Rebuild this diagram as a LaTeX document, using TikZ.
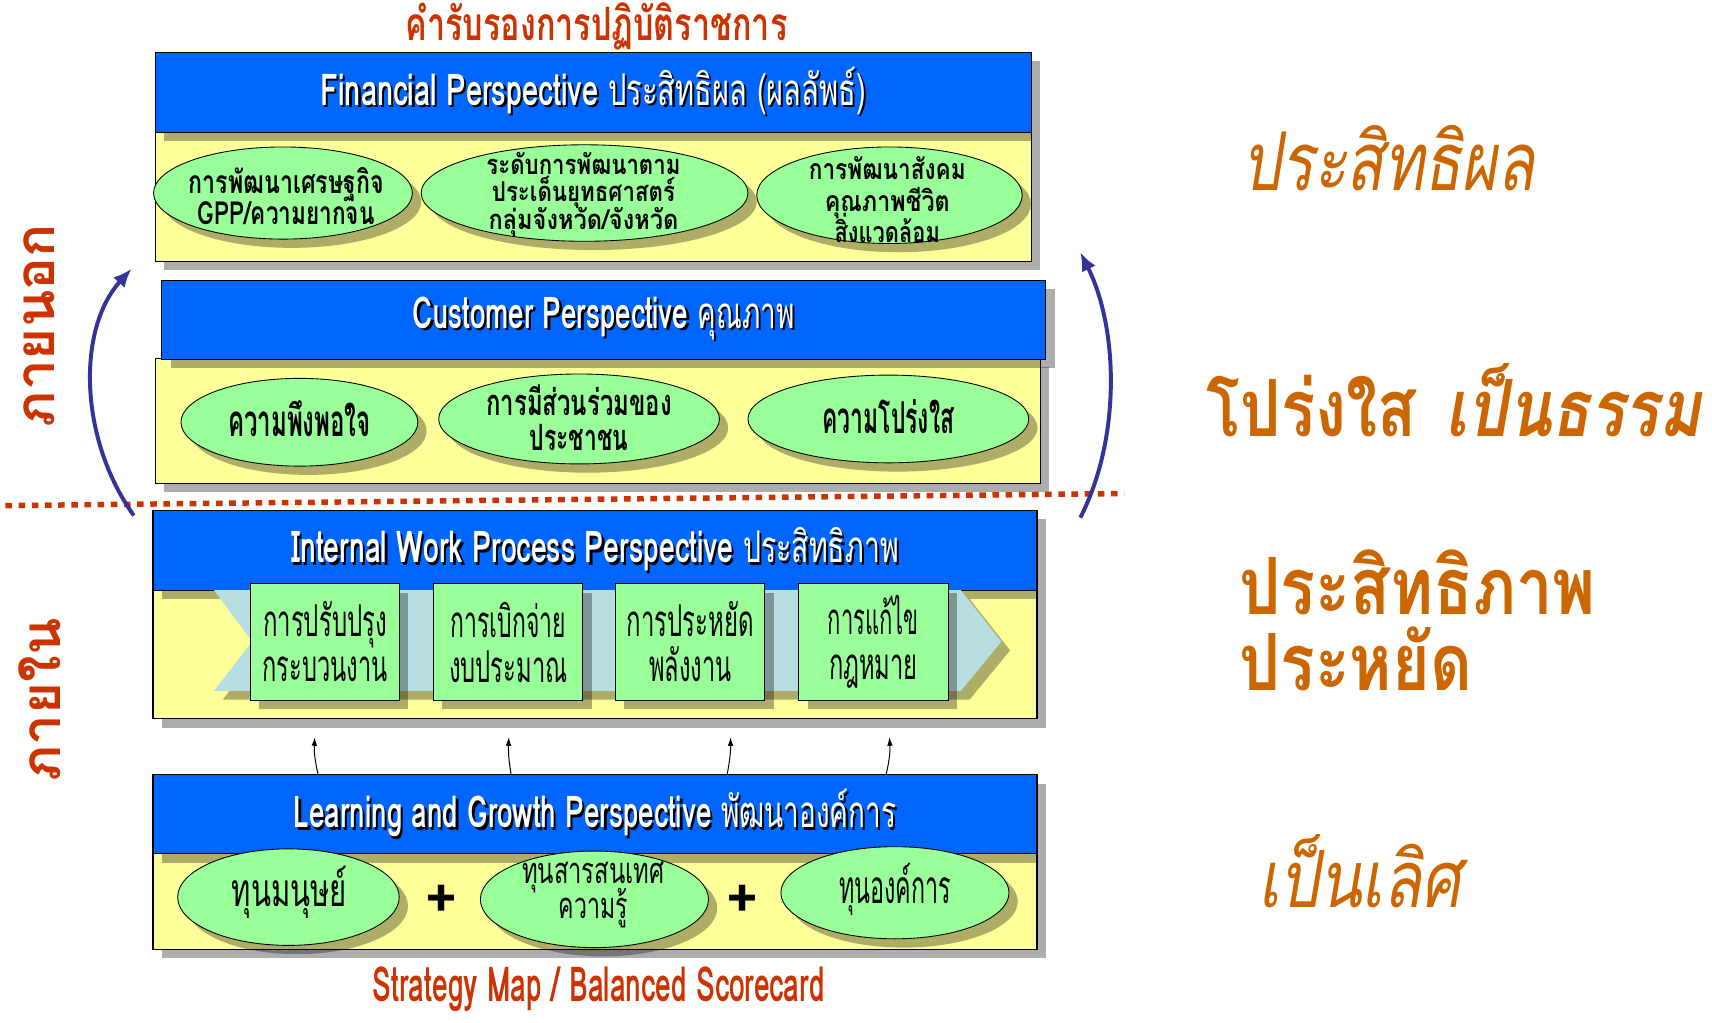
\documentclass[tikz,border=0pt]{standalone}
\usepackage{fontspec}
\usepackage{graphicx}
\usetikzlibrary{shapes.geometric,shadows,arrows.meta}
\setmainfont{Loma}[Script=Thai]
\definecolor{hblue}{HTML}{0066FF}
\definecolor{byellow}{HTML}{FFFF99}
\definecolor{egreen}{HTML}{99FF99}
\definecolor{chevc}{HTML}{B7DEE0}
\definecolor{tred}{HTML}{CC3300}
\definecolor{torange}{HTML}{CC6600}
\definecolor{abl}{HTML}{333399}
\newcommand\wl[2]{\resizebox{#1}{\height}{#2}}
\newcommand\shd[1]{\makebox[0pt][l]{\kern2pt\raisebox{-2pt}{\color{black}#1}}{\color{white}#1}}
\newcommand\tightlines{\lineskiplimit=-200pt\lineskip=0pt}
\begin{document}
\begin{tikzpicture}[x=1pt,y=-1pt,
  sh/.style={drop shadow={shadow xshift=8pt,shadow yshift=-8pt,fill=black,opacity=0.32}},
  hdr/.style={draw=black,line width=1pt,fill=hblue,sh,anchor=north west,inner sep=0pt,font=\fontsize{40}{44}\selectfont},
  bdy/.style={draw=black,line width=1pt,fill=byellow,sh,anchor=north west,inner sep=0pt},
  ell/.style={ellipse,draw=black,line width=0.8pt,fill=egreen,sh,inner sep=0pt},
  sq/.style={draw=black,line width=0.8pt,fill=egreen,sh,anchor=north west,inner sep=0pt,align=center,minimum width=136pt,minimum height=106pt,font=\fontsize{40}{41}\selectfont\tightlines},
  etxt/.style={align=center,inner sep=0pt},
  ftxt/.style={etxt,font=\fontsize{29}{28}\selectfont\bfseries\tightlines},
  ctxt/.style={etxt,font=\fontsize{40}{29}\selectfont\bfseries\tightlines},
  ltxt/.style={etxt,font=\fontsize{42}{34}\selectfont\tightlines},
  side/.style={text=torange,inner sep=0pt,anchor=base west},
  vert/.style={text=tred,inner sep=0pt,rotate=90,font=\fontsize{50}{54}\selectfont\bfseries},
  redt/.style={text=tred,inner sep=0pt,font=\fontsize{42}{46}\selectfont\bfseries},
  barr/.style={draw=abl,line width=3.6pt,-{Latex[length=17pt,width=14pt]}},
  sarr/.style={draw=black,line width=0.9pt,-{Latex[length=8pt,width=5pt]}},
  dotl/.style={draw=tred,line width=5pt,dash pattern=on 6pt off 6pt}
]
\useasboundingbox (0,0) rectangle (1561,932);
\fill[white] (0,0) rectangle (1561,932);

% title
\node[redt,anchor=base] (title) at (544,37) {\wl{348pt}{คำรับรองการปฏิบัติราชการ}};

% Financial
\node[bdy,minimum width=799pt,minimum height=118pt] (fb) at (141,120) {};
\node[hdr,minimum width=799pt,minimum height=73pt] (fh) at (141,47)
  {\shd{\wl{497pt}{\bfseries Financial Perspective\ \mdseries ประสิทธิผล (ผลลัพธ์)}}};
\node[ell,minimum width=236pt,minimum height=84pt] (e1) at (258,176) {};
\node[ell,minimum width=298pt,minimum height=88pt] (e2) at (533,176) {};
\node[ell,minimum width=242pt,minimum height=88pt] (e3) at (811,178) {};
\node[ftxt] (e1t) at (261,179) {\wl{178pt}{การพัฒนาเศรษฐกิจ}\\\wl{161pt}{GPP/ความยากจน}};
\node[ftxt,font=\fontsize{25}{25}\selectfont\bfseries\tightlines] (e2t) at (532,177) {\wl{177pt}{ระดับการพัฒนาตาม}\\\wl{167pt}{ประเด็นยุทธศาสตร์}\\\wl{173pt}{กลุ่มจังหวัด/จังหวัด}};
\node[ftxt,font=\fontsize{26}{29}\selectfont\bfseries\tightlines] (e3t) at (809,182) {\wl{143pt}{การพัฒนาสังคม}\\\wl{114pt}{คุณภาพชีวิต}\\\wl{96pt}{สิ่งแวดล้อม}};

% Customer
\node[bdy,minimum width=807pt,minimum height=114pt] (cb) at (141,326) {};
\node[hdr,minimum width=806pt,minimum height=72pt] (ch) at (147,255)
  {\shd{\wl{348pt}{\bfseries Customer Perspective\ \mdseries คุณภาพ}}};
\node[ell,minimum width=216pt,minimum height=80pt] (e4) at (273,385) {};
\node[ell,minimum width=256pt,minimum height=82pt] (e5) at (528,382) {};
\node[ell,minimum width=256pt,minimum height=80pt] (e6) at (810,382) {};
\node[ctxt] (e4t) at (273,382) {\wl{130pt}{ความพึงพอใจ}};
\node[ctxt,font=\fontsize{33}{32}\selectfont\bfseries\tightlines] (e5t) at (528,381) {\wl{169pt}{การมีส่วนร่วมของ}\\\wl{90pt}{ประชาชน}};
\node[ctxt] (e6t) at (810,380) {\wl{120pt}{ความโปร่งใส}};

% dotted divider
\coordinate (dl) at (5,461);
\coordinate (dr) at (1025,450);
\draw[dotl] (dl) -- (dr);

% Internal
\node[bdy,minimum width=806pt,minimum height=117pt] (ib) at (139,538) {};
\node[hdr,minimum width=806pt,minimum height=73pt] (ih) at (139,465)
  {\shd{\wl{554pt}{\bfseries Internal Work Process Perspective\ \mdseries ประสิทธิภาพ}}};
\fill[chevc,sh] (195,538) -- (876,538) -- (913,585) -- (876,630) -- (195,630) -- (230,585) -- cycle;
\node[sq] (s1) at (228,532) {\wl{113pt}{การปรับปรุง}\\\wl{114pt}{กระบวนงาน}};
\node[sq] (s2) at (395,532) {\wl{105pt}{การเบิกจ่าย}\\\wl{108pt}{งบประมาณ}};
\node[sq] (s3) at (561,532) {\wl{116pt}{การประหยัด}\\\wl{75pt}{พลังงาน}};
\node[sq] (s4) at (728,532) {\wl{83pt}{การแก้ไข}\\\wl{81pt}{กฎหมาย}};

% Learning
\node[bdy,minimum width=806pt,minimum height=87pt] (lb) at (139,778) {};
\node[hdr,minimum width=806pt,minimum height=72pt] (lh) at (139,706)
  {\shd{\wl{549pt}{\bfseries Learning and Growth Perspective\ \mdseries พัฒนาองค์การ}}};
\node[ell,minimum width=202pt,minimum height=88pt] (e7) at (263,818) {};
\node[ell,minimum width=208pt,minimum height=88pt] (e8) at (542,820) {};
\node[ell,minimum width=208pt,minimum height=84pt] (e9) at (816,814) {};
\node[ltxt] (e7t) at (264,814) {\wl{105pt}{ทุนมนุษย์}};
\node[ltxt,font=\fontsize{33}{32}\selectfont\tightlines] (e8t) at (541,816) {\wl{130pt}{ทุนสารสนเทศ}\\\wl{63pt}{ความรู้}};
\node[ltxt] (e9t) at (816,811) {\wl{102pt}{ทุนองค์การ}};
\node[inner sep=0pt,font=\fontsize{50}{52}\selectfont\bfseries] (p1) at (403,822) {+};
\node[inner sep=0pt,font=\fontsize{50}{52}\selectfont\bfseries] (p2) at (677,822) {+};

% small arrows
\coordinate (u1s) at (290,706); \coordinate (u1e) at (287,672);
\coordinate (u2s) at (466,706); \coordinate (u2e) at (464,672);
\coordinate (u3s) at (663,706); \coordinate (u3e) at (666,672);
\coordinate (u4s) at (808,706); \coordinate (u4e) at (811,672);
\draw[sarr] (u1s) to[bend left=8] (u1e);
\draw[sarr] (u2s) to[bend left=6] (u2e);
\draw[sarr] (u3s) to[bend right=6] (u3e);
\draw[sarr] (u4s) to[bend right=8] (u4e);

% bottom caption
\node[redt,anchor=base,font=\fontsize{44}{48}\selectfont\bfseries] (cap) at (546,913) {\wl{412pt}{Strategy Map / Balanced Scorecard}};

% blue curved arrows
\coordinate (la1) at (122,470); \coordinate (la2) at (120,245);
\coordinate (ra1) at (985,472); \coordinate (ra2) at (985,230);
\draw[barr] (la1) .. controls (72,400) and (70,300) .. (la2);
\draw[barr] (ra1) .. controls (1022,400) and (1020,300) .. (ra2);

% vertical labels
\node[vert] (vo) at (36,297) {ภายนอก};
\node[vert] (vi) at (36,638) {ภายใน};

% right labels
\node[side,font=\fontsize{74}{78}\selectfont\itshape] (r1) at (1133,174) {\wl{266pt}{ประสิทธิผล}};
\node[side,font=\fontsize{72}{76}\selectfont\bfseries] (r2) at (1100,398) {\wl{191pt}{โปร่งใส}};
\node[side,font=\fontsize{72}{76}\selectfont\bfseries\itshape] (r3) at (1318,398) {\wl{233pt}{เป็นธรรม}};
\node[side,font=\fontsize{72}{76}\selectfont\bfseries] (r4) at (1130,560) {\wl{325pt}{ประสิทธิภาพ}};
\node[side,font=\fontsize{72}{76}\selectfont\bfseries] (r5) at (1130,630) {\wl{212pt}{ประหยัด}};
\node[side,font=\fontsize{72}{76}\selectfont\itshape] (r6) at (1147,827) {\wl{185pt}{เป็นเลิศ}};
\end{tikzpicture}
\end{document}
